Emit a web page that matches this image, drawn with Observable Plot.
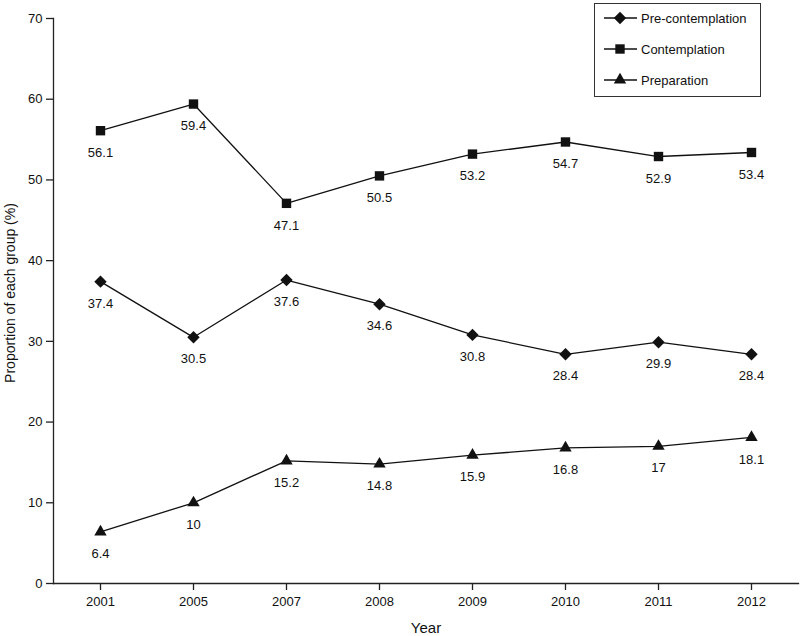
<!DOCTYPE html>
<html>
<head>
<meta charset="utf-8">
<script src="https://cdn.jsdelivr.net/npm/d3@7"></script>
<script src="https://cdn.jsdelivr.net/npm/@observablehq/plot@0.6"></script>
<style>
  html, body { margin: 0; padding: 0; background: #fff; }
  #wrap { position: relative; width: 800px; height: 636px; font-family: "Liberation Sans", Arial, sans-serif; }
  #legend { position: absolute; left: 594px; top: 3px; }
</style>
</head>
<body>
<div id="wrap"><div id="chart"></div><div id="legend"></div></div>
<script>
const years = ["2001", "2005", "2007", "2008", "2009", "2010", "2011", "2012"];
const seriesNames = ["Pre-contemplation", "Contemplation", "Preparation"];
const preContemplation = [37.4, 30.5, 37.6, 34.6, 30.8, 28.4, 29.9, 28.4];
const contemplation = [56.1, 59.4, 47.1, 50.5, 53.2, 54.7, 52.9, 53.4];
const preparation = [6.4, 10, 15.2, 14.8, 15.9, 16.8, 17, 18.1];
const yTicks = [0, 10, 20, 30, 40, 50, 60, 70];

const symbols = {"Pre-contemplation": "diamond2", "Contemplation": "square", "Preparation": "triangle"};
const radii = {"Pre-contemplation": 5.6, "Contemplation": 5.3, "Preparation": 4.6};
const valuesBySeries = [preContemplation, contemplation, preparation];

const data = [];
seriesNames.forEach((s, i) => {
  years.forEach((y, j) => data.push({series: s, year: y, value: valuesBySeries[i][j]}));
});

const font = "Liberation Sans, Arial, sans-serif";

const marks = [
  Plot.frame({anchor: "left", stroke: "#222", strokeWidth: 1.3}),
  Plot.frame({anchor: "bottom", stroke: "#222", strokeWidth: 1.3}),
  Plot.axisY({ticks: yTicks, tickSize: 7, tickPadding: 4, fontSize: 13, label: null, stroke: "#222", strokeWidth: 1.3}),
  Plot.axisX({tickSize: 7, tickPadding: 6, fontSize: 13, label: null, stroke: "#222", strokeWidth: 1.3}),
  Plot.lineY(data, {x: "year", y: "value", z: "series", stroke: "#111", strokeWidth: 1.3})
];
seriesNames.forEach(s => {
  const d = data.filter(e => e.series === s);
  marks.push(Plot.dot(d, {x: "year", y: "value", symbol: () => symbols[s], r: radii[s], fill: "#111", stroke: "none"}));
  marks.push(Plot.text(d, {x: "year", y: "value", text: e => String(e.value), dy: 22, fontSize: 13, fill: "#111"}));
});

const chart = Plot.plot({
  width: 800,
  height: 636,
  marginLeft: 53,
  marginRight: 2,
  marginTop: 18,
  marginBottom: 53,
  style: {fontFamily: font, color: "#111", background: "#fff"},
  x: {type: "point", domain: years, padding: 0.5},
  y: {domain: [0, 70]},
  symbol: {type: "identity"},
  marks
});
document.getElementById("chart").appendChild(chart);

// axis titles
const svg = d3.select(chart);
svg.append("text").attr("x", 426).attr("y", 633).attr("text-anchor", "middle")
  .attr("font-size", 15).attr("font-family", font).attr("fill", "#111").text("Year");
svg.append("text").attr("transform", "translate(15,293) rotate(-90)").attr("text-anchor", "middle")
  .attr("font-size", 14).attr("font-family", font).attr("fill", "#111").text("Proportion of each group (%)");

// legend
const lg = d3.select("#legend").append("svg").attr("width", 168).attr("height", 95);
lg.append("rect").attr("x", 0.5).attr("y", 0.5).attr("width", 166).attr("height", 93)
  .attr("fill", "#fff").attr("stroke", "#333").attr("stroke-width", 1);
const symMap = {"diamond2": d3.symbolDiamond2, "square": d3.symbolSquare, "triangle": d3.symbolTriangle};
seriesNames.forEach((s, i) => {
  const cy = 15 + i * 31;
  lg.append("line").attr("x1", 10).attr("x2", 43).attr("y1", cy).attr("y2", cy).attr("stroke", "#111").attr("stroke-width", 1.3);
  lg.append("path").attr("transform", `translate(26,${cy})`)
    .attr("d", d3.symbol(symMap[symbols[s]], radii[s] * radii[s] * Math.PI)()).attr("fill", "#111");
  lg.append("text").attr("x", 47).attr("y", cy).attr("dy", "0.35em").attr("font-size", 13)
    .attr("font-family", font).attr("fill", "#111").text(s);
});
</script>
</body>
</html>
